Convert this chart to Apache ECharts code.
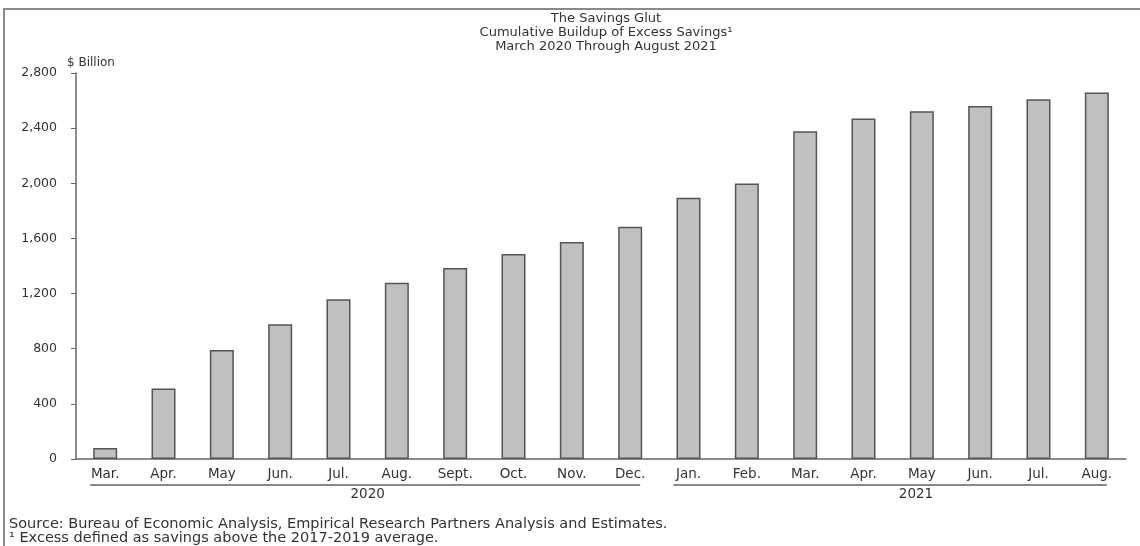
<!DOCTYPE html>
<html>
<head>
<meta charset="utf-8">
<script src="https://cdn.jsdelivr.net/npm/echarts@6/dist/echarts.min.js"></script>
<style>
html,body{margin:0;padding:0;background:#fff;}
#chart{width:1140px;height:546px;}
</style>
</head>
<body>
<div id="chart"></div>
<script>
// ---- data ----
var months = ['Mar.','Apr.','May','Jun.','Jul.','Aug.','Sept.','Oct.','Nov.','Dec.',
              'Jan.','Feb.','Mar.','Apr.','May','Jun.','Jul.','Aug.'];
var excessSavings = [80, 512, 790, 977, 1158, 1279, 1385, 1487, 1574, 1685,
                     1895, 1999, 2378, 2470, 2523, 2560, 2610, 2659];
var years = ['2020', '2021'];
var yearFirstIndex = [0, 10];
var yearLastIndex = [9, 17];
var yTicks = [0, 400, 800, 1200, 1600, 2000, 2400, 2800];
var titleLines = ['The Savings Glut', 'Cumulative Buildup of Excess Savings\u00B9', 'March 2020 Through August 2021'];
var unitLabel = '$ Billion';
var notes = ['Source: Bureau of Economic Analysis, Empirical Research Partners Analysis and Estimates.',
             '\u00B9 Excess defined as savings above the 2017-2019 average.'];

// layout helpers (not data)
var yearLabelAnchor = [4.5, 13.9];

var FONT = 'DejaVu Sans';
var TXT = '#333';
var chart = echarts.init(document.getElementById('chart'), null, {renderer: 'canvas'});

var option = {
  backgroundColor: '#fff',
  animation: false,
  title: {
    text: titleLines.join('\n'),
    left: 601, top: 7, textAlign: 'center',
    textStyle: {fontFamily: FONT, fontSize: 13, fontWeight: 'normal', color: TXT, lineHeight: 14}
  },
  grid: {left: 76, right: 14, top: 73, bottom: 87, containLabel: false},
  xAxis: {
    type: 'category',
    data: months,
    boundaryGap: true,
    axisLine: {lineStyle: {color: '#666', width: 1.5}},
    axisTick: {show: false},
    axisLabel: {fontFamily: FONT, fontSize: 13.5, color: TXT, margin: 8, interval: 0}
  },
  yAxis: {
    type: 'value',
    min: yTicks[0], max: yTicks[yTicks.length - 1], interval: yTicks[1] - yTicks[0],
    axisLine: {show: true, lineStyle: {color: '#666', width: 1.5}},
    axisTick: {show: true, length: 5, lineStyle: {color: '#666'}},
    splitLine: {show: false},
    axisLabel: {
      fontFamily: FONT, fontSize: 12.5, color: TXT, margin: 19,
      formatter: function (v) { return v.toLocaleString('en-US'); }
    }
  },
  series: [{
    type: 'bar',
    data: excessSavings,
    barWidth: 24,
    itemStyle: {color: '#c0c0c0', borderColor: '#555', borderWidth: 1.5}
  }]
};
chart.setOption(option);

function px(idx) { return chart.convertToPixel({xAxisIndex: 0}, idx); }
var y0 = chart.convertToPixel({yAxisIndex: 0}, 0);
var yTop = chart.convertToPixel({yAxisIndex: 0}, yTicks[yTicks.length - 1]);
var band = px(1) - px(0);
var gridLeft = px(0) - band / 2;

var graphics = [
  {type: 'polyline', shape: {points: [[4, 546], [4, 9], [1140, 9]]},
   style: {stroke: '#8a8a8a', lineWidth: 2, fill: null}, silent: true},
  {type: 'text', x: gridLeft - 9, y: yTop - 10,
   style: {text: unitLabel, font: '12px "' + FONT + '"', fill: TXT, textAlign: 'left', textVerticalAlign: 'middle'}}
];
for (var i = 0; i < years.length; i++) {
  var xa = px(yearFirstIndex[i]) - 15;
  var xb = px(yearLastIndex[i]) + 10;
  graphics.push({type: 'line', shape: {x1: xa, y1: y0 + 26, x2: xb, y2: y0 + 26},
                 style: {stroke: '#888', lineWidth: 2}, silent: true});
  graphics.push({type: 'text', x: px(0) + yearLabelAnchor[i] * band, y: y0 + 35,
                 style: {text: years[i], font: '13.5px "' + FONT + '"', fill: TXT, textAlign: 'center', textVerticalAlign: 'middle'}});
}
for (var j = 0; j < notes.length; j++) {
  graphics.push({type: 'text', x: 9, y: 524 + j * 14,
                 style: {text: notes[j], font: '14.5px "' + FONT + '"', fill: TXT, textAlign: 'left', textVerticalAlign: 'middle'}});
}
chart.setOption({graphic: graphics});
</script>
</body>
</html>
